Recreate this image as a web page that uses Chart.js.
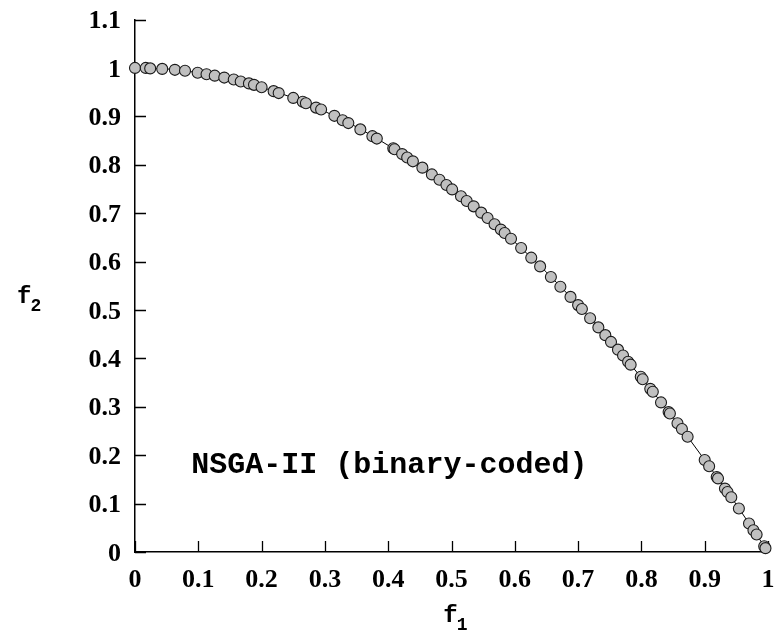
<!DOCTYPE html>
<html>
<head>
<meta charset="utf-8">
<title>NSGA-II (binary-coded)</title>
<script src="https://cdn.jsdelivr.net/npm/chart.js@4/dist/chart.umd.min.js"></script>
<style>
  html, body { margin: 0; padding: 0; background: #ffffff; }
  canvas { display: block; }
</style>
</head>
<body>
<canvas id="chart" width="778" height="635"></canvas>
<script>
// Non-dominated solutions found by NSGA-II (binary-coded)
const f1Values = [
  0.000, 0.017, 0.024, 0.043, 0.063, 0.079, 0.099, 0.113, 0.126, 0.141,
  0.156, 0.167, 0.180, 0.188, 0.200, 0.219, 0.227, 0.250, 0.265, 0.270,
  0.286, 0.294, 0.315, 0.328, 0.337, 0.356, 0.375, 0.382, 0.408, 0.410,
  0.422, 0.430, 0.439, 0.454, 0.469, 0.481, 0.492, 0.501, 0.515, 0.524,
  0.535, 0.547, 0.557, 0.568, 0.578, 0.584, 0.594, 0.610, 0.626, 0.640,
  0.657, 0.672, 0.688, 0.700, 0.706, 0.719, 0.732, 0.743, 0.752, 0.763,
  0.771, 0.779, 0.783, 0.799, 0.802, 0.814, 0.818, 0.831, 0.843, 0.845,
  0.857, 0.864, 0.873, 0.900, 0.907, 0.919, 0.921, 0.932, 0.936, 0.942,
  0.954, 0.970, 0.977, 0.982, 0.994, 0.996
];
const f2Values = [
  1.000, 1.000, 0.999, 0.998, 0.996, 0.994, 0.990, 0.987, 0.984, 0.980,
  0.976, 0.972, 0.968, 0.965, 0.960, 0.952, 0.948, 0.938, 0.930, 0.927,
  0.918, 0.914, 0.901, 0.892, 0.886, 0.873, 0.859, 0.854, 0.834, 0.832,
  0.822, 0.815, 0.807, 0.794, 0.780, 0.769, 0.758, 0.749, 0.735, 0.725,
  0.714, 0.701, 0.690, 0.677, 0.666, 0.659, 0.647, 0.628, 0.608, 0.590,
  0.568, 0.548, 0.527, 0.510, 0.502, 0.483, 0.464, 0.448, 0.434, 0.418,
  0.406, 0.393, 0.387, 0.362, 0.357, 0.337, 0.331, 0.309, 0.289, 0.286,
  0.266, 0.254, 0.238, 0.190, 0.177, 0.155, 0.152, 0.131, 0.124, 0.113,
  0.090, 0.059, 0.045, 0.036, 0.012, 0.008
];

// Pareto-optimal front (thin solid curve)
const frontF1 = [0.00, 0.05, 0.10, 0.15, 0.20, 0.25, 0.30, 0.35, 0.40, 0.45, 0.50,
                 0.55, 0.60, 0.65, 0.70, 0.75, 0.80, 0.85, 0.90, 0.95, 1.00];
const frontF2 = [1.000, 0.998, 0.990, 0.978, 0.960, 0.938, 0.910, 0.878, 0.840, 0.798, 0.750,
                 0.698, 0.640, 0.578, 0.510, 0.438, 0.360, 0.278, 0.190, 0.098, 0.000];

// Axis tick labels
const xTickLabels = ['0', '0.1', '0.2', '0.3', '0.4', '0.5', '0.6', '0.7', '0.8', '0.9', '1'];
const yTickLabels = ['0', '0.1', '0.2', '0.3', '0.4', '0.5', '0.6', '0.7', '0.8', '0.9', '1', '1.1'];

const annotationText = 'NSGA-II (binary-coded)';
const xAxisName = ['f', '1'];
const yAxisName = ['f', '2'];

const solutions = f1Values.map((x, i) => ({ x: x, y: f2Values[i] }));
const front = frontF1.map((x, i) => ({ x: x, y: frontF2[i] }));

const TICK_FONT = { family: "'Liberation Serif', 'Times New Roman', serif", size: 26, weight: 'bold' };
const MONO = "'Liberation Mono', 'Courier New', monospace";

// Short tick marks pointing into the plot area
const inwardTicks = {
  id: 'inwardTicks',
  beforeDatasetsDraw(chart) {
    const { ctx, chartArea, scales } = chart;
    const len = 11;
    ctx.save();
    ctx.strokeStyle = '#000000';
    ctx.lineWidth = 1.3;
    ctx.beginPath();
    scales.x.ticks.forEach(t => {
      const px = Math.round(scales.x.getPixelForValue(t.value)) + 0.5;
      ctx.moveTo(px, chartArea.bottom);
      ctx.lineTo(px, chartArea.bottom - len);
    });
    scales.y.ticks.forEach(t => {
      const py = Math.round(scales.y.getPixelForValue(t.value)) + 0.5;
      ctx.moveTo(chartArea.left, py);
      ctx.lineTo(chartArea.left + len, py);
    });
    ctx.stroke();
    ctx.restore();
  }
};

// Axis names with subscripts and the in-plot caption
const textLayer = {
  id: 'textLayer',
  afterDraw(chart) {
    const { ctx, scales } = chart;
    ctx.save();
    ctx.fillStyle = '#000000';
    ctx.textBaseline = 'alphabetic';
    ctx.textAlign = 'left';

    const drawSub = (parts, left, baseline) => {
      ctx.font = 'bold 24px ' + MONO;
      ctx.fillText(parts[0], left, baseline);
      const w = ctx.measureText(parts[0]).width;
      ctx.font = 'bold 18px ' + MONO;
      ctx.fillText(parts[1], left + w - 1, baseline + 8);
    };

    drawSub(xAxisName, scales.x.getPixelForValue(0.487), chart.height - 13);
    drawSub(yAxisName, 17, scales.y.getPixelForValue(0.515));

    ctx.font = 'bold 30px ' + MONO;
    ctx.fillText(annotationText, scales.x.getPixelForValue(0.089), scales.y.getPixelForValue(0.163));
    ctx.restore();
  }
};

new Chart(document.getElementById('chart'), {
  type: 'scatter',
  data: {
    datasets: [
      {
        label: 'NSGA-II',
        data: solutions,
        order: 0,
        clip: false,
        pointRadius: 5.5,
        pointHoverRadius: 5.5,
        pointBackgroundColor: '#c0c0c0',
        pointBorderColor: '#1a1a1a',
        pointBorderWidth: 1.1,
        showLine: false
      },
      {
        label: 'Pareto-optimal front',
        data: front,
        order: 1,
        showLine: true,
        borderColor: '#000000',
        borderWidth: 1,
        pointRadius: 0,
        pointHoverRadius: 0,
        cubicInterpolationMode: 'monotone',
        fill: false
      }
    ]
  },
  options: {
    responsive: false,
    animation: false,
    events: [],
    layout: { padding: 0 },
    plugins: {
      legend: { display: false },
      tooltip: { enabled: false },
      title: { display: false }
    },
    scales: {
      x: {
        type: 'linear',
        min: 0,
        max: 1,
        afterBuildTicks(scale) {
          scale.ticks = xTickLabels.map(s => ({ value: parseFloat(s) }));
        },
        afterFit(scale) {
          scale.height = 83;
          scale.paddingRight = 10;
          scale.paddingLeft = 0;
        },
        grid: { display: false, drawTicks: false },
        border: { display: true, color: '#000000', width: 1.5 },
        ticks: {
          color: '#000000',
          font: TICK_FONT,
          padding: 13,
          maxRotation: 0,
          autoSkip: false,
          callback: (v, i) => xTickLabels[i]
        }
      },
      y: {
        type: 'linear',
        min: 0,
        max: 1.1,
        afterBuildTicks(scale) {
          scale.ticks = yTickLabels.map(s => ({ value: parseFloat(s) }));
        },
        afterFit(scale) {
          scale.width = 135;
          scale.paddingTop = 19.5;
          scale.paddingBottom = 0;
        },
        grid: { display: false, drawTicks: false },
        border: { display: true, color: '#000000', width: 1.5 },
        ticks: {
          color: '#000000',
          font: TICK_FONT,
          padding: 14,
          labelOffset: 2,
          autoSkip: false,
          callback: (v, i) => yTickLabels[i]
        }
      }
    }
  },
  plugins: [inwardTicks, textLayer]
});
</script>
</body>
</html>
